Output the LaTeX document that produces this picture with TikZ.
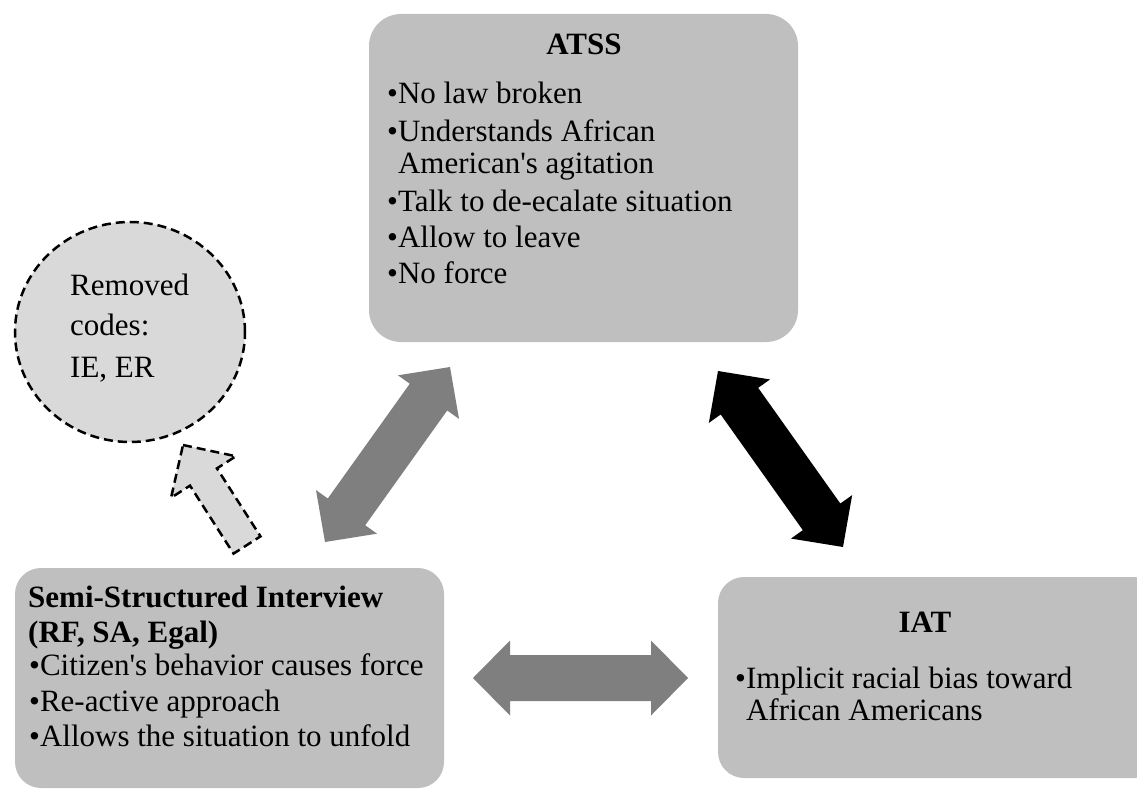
\documentclass[tikz,border=0pt]{standalone}
\usepackage{fontspec}
\setmainfont{Liberation Serif}[Ligatures=TeXOff]
\usetikzlibrary{calc,shapes.geometric}

\definecolor{boxgray}{HTML}{BFBFBF}
\definecolor{arrowgray}{HTML}{7F7F7F}
\definecolor{lightgray}{HTML}{D9D9D9}

% double-headed block arrow between two named coordinates
\newcommand\dblblock[3]{%
  \fill[#3] (#1)
    -- ($(#1)!37pt!(#2)!37.5pt!90:(#2)$)
    -- ($(#1)!37pt!(#2)!23pt!90:(#2)$)
    -- ($(#2)!37pt!(#1)!23pt!-90:(#1)$)
    -- ($(#2)!37pt!(#1)!37.5pt!-90:(#1)$)
    -- (#2)
    -- ($(#2)!37pt!(#1)!37.5pt!90:(#1)$)
    -- ($(#2)!37pt!(#1)!23pt!90:(#1)$)
    -- ($(#1)!37pt!(#2)!23pt!-90:(#2)$)
    -- ($(#1)!37pt!(#2)!37.5pt!-90:(#2)$)
    -- cycle;}

% single-headed block arrow: #1 = tail midpoint, #2 = tip
\newcommand\oneblock[3]{%
  \draw[#3] (#2)
    -- ($(#2)!38pt!(#1)!38.5pt!90:(#1)$)
    -- ($(#2)!38pt!(#1)!16pt!90:(#1)$)
    -- ($(#1)!16pt!-90:(#2)$)
    -- ($(#1)!16pt!90:(#2)$)
    -- ($(#2)!38pt!(#1)!16pt!-90:(#1)$)
    -- ($(#2)!38pt!(#1)!38.5pt!-90:(#1)$)
    -- cycle;}

\tikzset{
  panel/.style={rectangle, fill=boxgray, inner sep=0pt},
  txt/.style={anchor=base west, inner sep=0pt, font=\fontsize{31}{31}\selectfont},
  ttl/.style={anchor=base, inner sep=0pt, font=\fontsize{31}{31}\selectfont\bfseries},
  ttlw/.style={anchor=base west, inner sep=0pt, font=\fontsize{31}{31}\selectfont\bfseries},
  dashline/.style={draw=black, line width=2.5pt, dash pattern=on 9pt off 5pt, fill=lightgray},
}

\begin{document}
\begin{tikzpicture}[x=1pt,y=-1pt]
\useasboundingbox (0,0) rectangle (1137,789);
\clip (0,0) rectangle (1137,789);

% panels
\node[panel, rounded corners=32pt, minimum width=429pt, minimum height=328pt] (atss) at (583.5,178) {};
\node[panel, rounded corners=26pt, minimum width=429pt, minimum height=220pt] (ssi) at (229.5,678) {};
\node[panel, rounded corners=26pt, minimum width=442pt, minimum height=201pt] (iat) at (939,677.5) {};

% removed codes
\node[dashline, ellipse, inner sep=0pt, minimum width=230pt, minimum height=220pt] (rem) at (130,332) {};
\node[txt] (rem1) at (70,295) {Removed};
\node[txt] (rem2) at (70,335) {codes:};
\node[txt] (rem3) at (70,377) {IE, ER};

% ATSS text
\node[ttl] (atssT) at (584,55) {ATSS};
\node[txt] (a1) at (387,103) {•No law broken};
\node[txt] (a2) at (387,142) {•Understands African};
\node[txt] (a2b) at (387,173) {\hphantom{•}American's agitation};
\node[txt] (a3) at (387,211) {•Talk to de-ecalate situation};
\node[txt] (a4) at (387,247) {•Allow to leave};
\node[txt] (a5) at (387,283) {•No force};

% interview text
\node[ttlw] (ssiT1) at (28,607) {Semi-Structured Interview};
\node[ttlw] (ssiT2) at (28,642) {(RF, SA, Egal)};
\node[txt] (s1) at (29,675) {•Citizen's behavior causes force};
\node[txt] (s2) at (29,711.5) {•Re-active approach};
\node[txt] (s3) at (29,746.5) {•Allows the situation to unfold};

% IAT text
\node[ttl] (iatT) at (925,632) {IAT};
\node[txt] (i1) at (735,688) {•Implicit racial bias toward};
\node[txt] (i1b) at (735,720) {\hphantom{•}African Americans};

% arrow ends
\coordinate (g1) at (325,542);
\coordinate (g2) at (450,367);
\coordinate (b1) at (718,371);
\coordinate (b2) at (843,547);
\coordinate (h1) at (473,678);
\coordinate (h2) at (688,678);
\coordinate (d1) at (247,545);
\coordinate (d2) at (183,445);

\dblblock{g1}{g2}{arrowgray}
\dblblock{b1}{b2}{black}
\dblblock{h1}{h2}{arrowgray}
\oneblock{d1}{d2}{dashline}
\end{tikzpicture}
\end{document}
